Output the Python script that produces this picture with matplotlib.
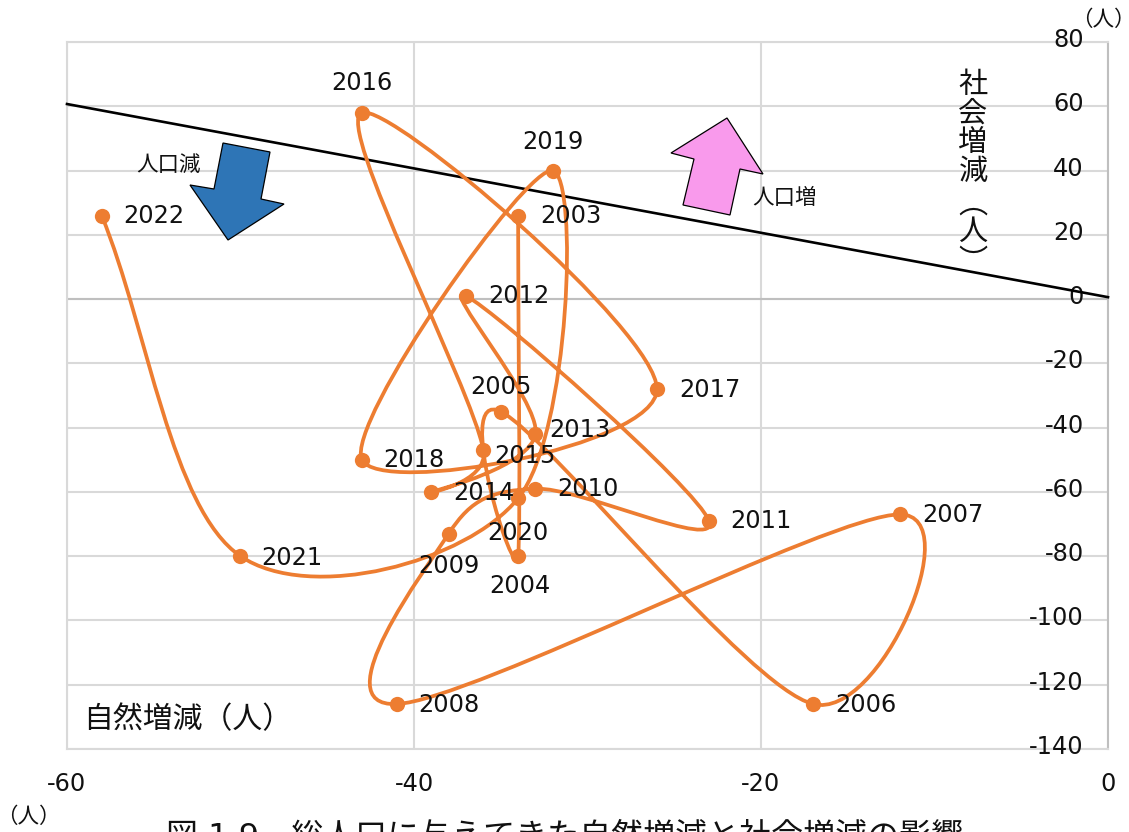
#!/usr/bin/env python3

"""Natural vs. social population change by year, drawn as a smoothed path."""

import numpy as np
import matplotlib
matplotlib.use('Agg')
import matplotlib.pyplot as plt
from matplotlib.patches import PathPatch, Polygon
from matplotlib.path import Path
from matplotlib.transforms import Affine2D

plt.rcParams['font.family'] = ['DejaVu Sans', 'Noto Sans CJK JP']

W, H = 1129, 832

years = list(range(2003, 2023))
natural = [-34, -34, -35, -17, -12, -41, -38, -33, -23, -37,
           -33, -39, -36, -43, -26, -43, -32, -34, -50, -58]
social = [26, -80, -35, -126, -67, -126, -73, -59, -69, 1,
          -42, -60, -47, 58, -28, -50, 40, -62, -80, 26]

x_ticks = [-60, -40, -20, 0]
y_ticks = [80, 60, 40, 20, 0, -20, -40, -60, -80, -100, -120, -140]

boundary_x = [-60, 0]
boundary_y = [60.7, 0.6]

# label centres in image pixels, same order as years
label_pos = [(571, 215), (520, 585), (501, 386), (866, 704), (953, 514),
             (449, 704), (449, 565), (588, 488), (761, 520), (519, 295),
             (580, 429), (484, 492), (525, 455), (362, 82), (710, 389),
             (414, 459), (553, 141), (518, 532), (292, 557), (154, 215)]

# block arrows in image pixels
down_arrow = [(223, 143), (270, 152), (261, 199), (284, 204), (228, 240),
              (190, 185), (214, 189)]
up_arrow = [(727, 118), (763, 174), (740, 169), (730, 215), (683, 205),
            (694, 159), (671, 153)]

ORANGE = '#ED7D31'
GRID = '#D9D9D9'


def smooth_path(xs, ys, to_display):
    """Builds a spreadsheet-style smoothed bezier path through the points."""
    pts = to_display(np.column_stack([xs, ys]).astype(float))
    n = len(pts)

    def handle(prev, cur, nxt, seg_len):
        # tangent handle at cur, held to half of the segment it belongs to
        chord = nxt - prev
        if np.array_equal(prev, cur) or np.array_equal(nxt, cur):
            h = chord / 3
        else:
            h = chord / 6
        length = np.hypot(*h)
        if length > seg_len / 2:
            h = h * (seg_len / 2) / length
        return h

    verts = [pts[0]]
    codes = [Path.MOVETO]
    for i in range(n - 1):
        p0 = pts[max(i - 1, 0)]
        p1 = pts[i]
        p2 = pts[i + 1]
        p3 = pts[min(i + 2, n - 1)]
        seg = np.hypot(*(p2 - p1))
        verts += [p1 + handle(p0, p1, p2, seg), p2 - handle(p1, p2, p3, seg), p2]
        codes += [Path.CURVE4, Path.CURVE4, Path.CURVE4]
    return Path(verts, codes)


fig = plt.figure(figsize=(W / 100, H / 100), dpi=100)
ax = fig.add_axes([67 / W, 1 - 749 / H, (1108 - 67) / W, (749 - 42) / H])

# maps image pixels (y down) onto the figure
px = Affine2D().scale(1, -1).translate(0, H)


def put(x, y, s, size, **kw):
    fig.text(x, y, s, transform=px, fontsize=size, ha='center', va='center',
             color=kw.pop('color', '#111111'), **kw)


ax.set_xlim(-60, 0)
ax.set_ylim(-140, 80)
ax.set_xticks(x_ticks)
ax.set_yticks(y_ticks)
ax.set_xticklabels([])
ax.set_yticklabels([])
ax.tick_params(length=0)
ax.grid(True, color=GRID, linewidth=1.5)
ax.set_axisbelow(True)
for side in ['top', 'left', 'bottom']:
    ax.spines[side].set_color(GRID)
    ax.spines[side].set_linewidth(1.5)
ax.spines['right'].set_color('#BFBFBF')
ax.spines['right'].set_linewidth(1.5)
ax.axhline(0, color='#BFBFBF', linewidth=1.5, zorder=1)

for v in x_ticks:
    ax.annotate(str(v), (v, -140), xytext=(0, -35 * 0.72), textcoords='offset points',
                ha='center', va='center', fontsize=17.3, color='#111111')
for v in y_ticks:
    ax.annotate(str(v), (0, v), xytext=(-24 * 0.72, 2 * 0.72), textcoords='offset points',
                ha='right', va='center', fontsize=17.3, color='#111111')

ax.plot(boundary_x, boundary_y, color='black', linewidth=1.9, zorder=3, clip_on=False)
path = smooth_path(natural, social, ax.transData.transform)
ax.add_patch(PathPatch(path, facecolor='none', edgecolor=ORANGE, linewidth=2.7, zorder=4,
                       clip_on=False, transform=None))
ax.plot(natural, social, linestyle='none', marker='o', color=ORANGE, markersize=11,
        markeredgewidth=0, zorder=5, clip_on=False)

fig.add_artist(Polygon(down_arrow, closed=True, transform=px, facecolor='#2E75B6',
                       edgecolor='black', linewidth=0.9, zorder=6))
fig.add_artist(Polygon(up_arrow, closed=True, transform=px, facecolor='#F99AEC',
                       edgecolor='black', linewidth=0.9, zorder=6))

for year, (lx, ly) in zip(years, label_pos):
    put(lx, ly + 1, str(year), 17.3, zorder=7)

put(169, 165, '人口減', 15.5, zorder=7)
put(785, 198, '人口増', 15.5, zorder=7)
put(188, 720, '自然増減（人）', 21.5, zorder=7)

for ch, cy in [('社', 85), ('会', 114), ('増', 143), ('減', 172), ('︵', 205), ('人', 232), ('︶', 262)]:
    put(973, cy, ch, 21, zorder=7)

put(1103, 20, '（人）', 15.5)
put(28, 817, '（人）', 15.5)
put(565, 837, '図 1.9　総人口に与えてきた自然増減と社会増減の影響', 23)

fig.savefig('out.png', dpi=100)
